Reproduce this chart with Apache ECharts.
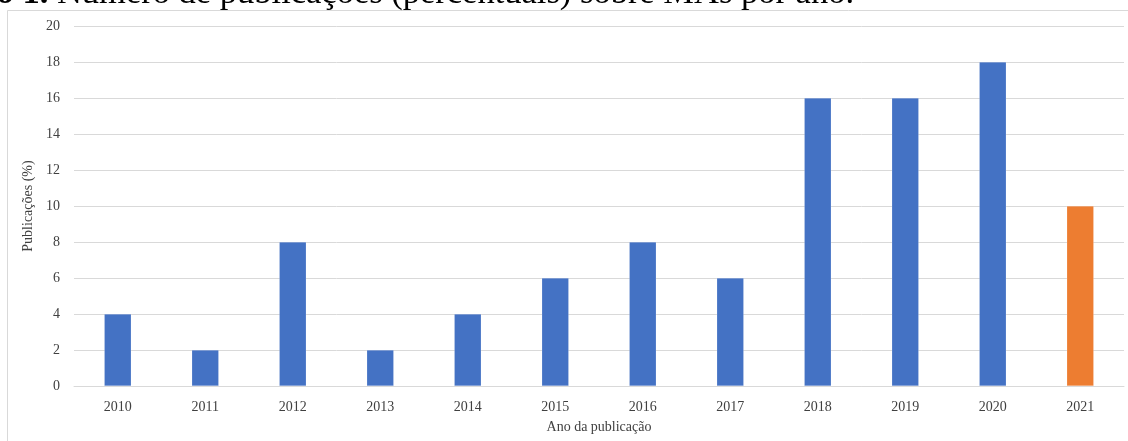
<!DOCTYPE html>
<html>
<head>
<meta charset="utf-8">
<script src="https://cdn.jsdelivr.net/npm/echarts@6/dist/echarts.min.js"></script>
<style>
html,body{margin:0;padding:0;background:#fff;}
#chart{width:1128px;height:441px;}
</style>
</head>
<body>
<div id="chart"></div>
<script>
var categories = ['2010','2011','2012','2013','2014','2015','2016','2017','2018','2019','2020','2021'];
var values = [4, 2, 8, 2, 4, 6, 8, 6, 16, 16, 18, 10];
var barColors = ['#4472C4','#4472C4','#4472C4','#4472C4','#4472C4','#4472C4','#4472C4','#4472C4','#4472C4','#4472C4','#4472C4','#ED7D31'];
var titleLabel = 'Gráfico 1.';
var titleText = ' Número de publicações (percentuais) sobre MAs por ano.';
var yAxisName = 'Publicações (%)';
var xAxisName = 'Ano da publicação';

var chart = echarts.init(document.getElementById('chart'), null, {renderer:'canvas'});
var serif = '"Liberation Serif", "Times New Roman", serif';
chart.setOption({
  animation: false,
  backgroundColor: '#ffffff',
  graphic: [
    {type:'rect', shape:{x:7.5, y:10.5, width:1140, height:450}, style:{fill:'none', stroke:'#d9d9d9', lineWidth:1}, z:0},
    {type:'text', x:854, y:-6, style:{
      text:'{b|' + titleLabel + '}{r|' + titleText + '}',
      rich:{
        b:{fontFamily:serif, fontSize:34.5, fontWeight:'bold', fill:'#000'},
        r:{fontFamily:serif, fontSize:34.5, fontWeight:'normal', fill:'#000'}
      },
      textAlign:'right', textVerticalAlign:'middle'}, z:10}
  ],
  grid: {left:74, top:26, width:1050, height:360, containLabel:false},
  xAxis: {
    type:'category', data:categories,
    axisLine:{show:true, lineStyle:{color:'#d9d9d9', width:1}},
    axisTick:{show:false},
    axisLabel:{color:'#404040', fontFamily:serif, fontSize:14, margin:14},
    name:xAxisName, nameLocation:'middle', nameGap:34,
    nameTextStyle:{color:'#404040', fontFamily:serif, fontSize:14}
  },
  yAxis: {
    type:'value', min:0, max:20, interval:2,
    axisLine:{show:false}, axisTick:{show:false},
    splitLine:{lineStyle:{color:'#d9d9d9', width:1}},
    axisLabel:{color:'#404040', fontFamily:serif, fontSize:14, margin:14},
    name:yAxisName, nameLocation:'middle', nameGap:33, nameRotate:90,
    nameTextStyle:{color:'#404040', fontFamily:serif, fontSize:14}
  },
  series: [{
    type:'bar',
    data: values.map(function(v,i){return {value:v, itemStyle:{color:barColors[i]}};}),
    barWidth:27,
    itemStyle:{borderColor:'rgba(255,255,255,0.35)', borderWidth:0.5}
  }]
});
</script>
</body>
</html>
